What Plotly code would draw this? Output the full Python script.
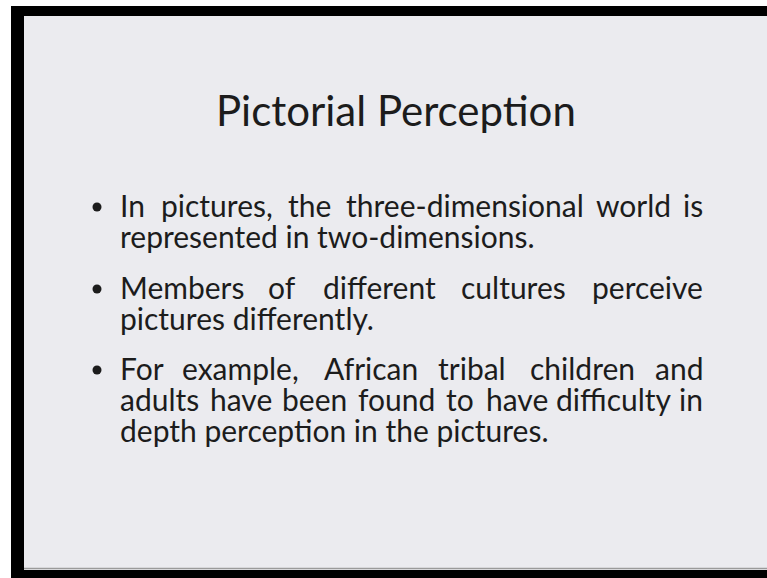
import plotly.graph_objects as go

W, H = 767, 578

TITLE = "Pictorial Perception"
BULLET_LINES = [
    ["In pictures, the three-dimensional world is", "represented in two-dimensions."],
    ["Members of different cultures perceive", "pictures differently."],
    ["For example, African tribal children and",
     "adults have been found to have difficulty in",
     "depth perception in the pictures."],
]

# layout
FONT = "Lato"
TEXT_COLOR = "#1c1c1c"
BG = "#ebebef"
TITLE_SIZE = 42
BODY_SIZE = 30
LEFT_X = 118
RIGHT_X = 705
BULLET_X = 97
TITLE_Y = 110
PARA_Y = [[205, 236], [287, 318], [368, 399, 430]]
# justified lines: centres of the middle words (first word left-aligned, last right-aligned)
WORD_CX = {
    (0, 0): [217, 309, 465, 633],
    (1, 0): [282, 379, 513],
    (2, 0): [240, 371, 472, 582],
    (2, 1): [241, 314, 396, 460, 517, 614],
}

fig = go.Figure()

shapes = [
    dict(type="rect", x0=24, x1=W, y0=16, y1=570, fillcolor=BG, line_width=0, layer="below"),
    dict(type="rect", x0=11, x1=W, y0=6, y1=16, fillcolor="black", line_width=0),
    dict(type="rect", x0=11, x1=24, y0=6, y1=H, fillcolor="black", line_width=0),
    dict(type="rect", x0=11, x1=W, y0=570, y1=H, fillcolor="black", line_width=0),
    dict(type="line", x0=24, x1=W, y0=568.5, y1=568.5, line=dict(color="#9a9a9a", width=1.5)),
]

annotations = [dict(x=(24 + W) / 2, y=TITLE_Y, text=TITLE, showarrow=False,
                    xanchor="center", yanchor="middle",
                    font=dict(family=FONT, size=TITLE_SIZE, color=TEXT_COLOR))]

bx, by = [], []
for p, lines in enumerate(BULLET_LINES):
    bx.append(BULLET_X)
    by.append(PARA_Y[p][0] + 2)
    for l, line in enumerate(lines):
        y = PARA_Y[p][l]
        font = dict(family=FONT, size=BODY_SIZE, color=TEXT_COLOR)
        if (p, l) in WORD_CX:
            words = line.split(" ")
            cxs = WORD_CX[(p, l)]
            for i, w in enumerate(words):
                if i == 0:
                    x, xa = LEFT_X, "left"
                elif i == len(words) - 1:
                    x, xa = RIGHT_X, "right"
                else:
                    x, xa = cxs[i - 1], "center"
                annotations.append(dict(x=x, y=y, text=w, showarrow=False,
                                        xanchor=xa, yanchor="middle", font=font))
        else:
            annotations.append(dict(x=LEFT_X, y=y, text=line, showarrow=False,
                                    xanchor="left", yanchor="middle", font=font))

fig.add_trace(go.Scatter(x=bx, y=by, mode="markers",
                         marker=dict(size=9, color=TEXT_COLOR), hoverinfo="skip", showlegend=False))

fig.update_layout(
    width=W, height=H, margin=dict(l=0, r=0, t=0, b=0),
    paper_bgcolor="white", plot_bgcolor="rgba(0,0,0,0)",
    xaxis=dict(range=[0, W], visible=False, fixedrange=True),
    yaxis=dict(range=[H, 0], visible=False, fixedrange=True),
    shapes=shapes, annotations=annotations, showlegend=False,
)

fig.write_html("out.html", config={"displayModeBar": False},
               post_script="document.body.style.margin='0';document.body.style.overflow='hidden';")
